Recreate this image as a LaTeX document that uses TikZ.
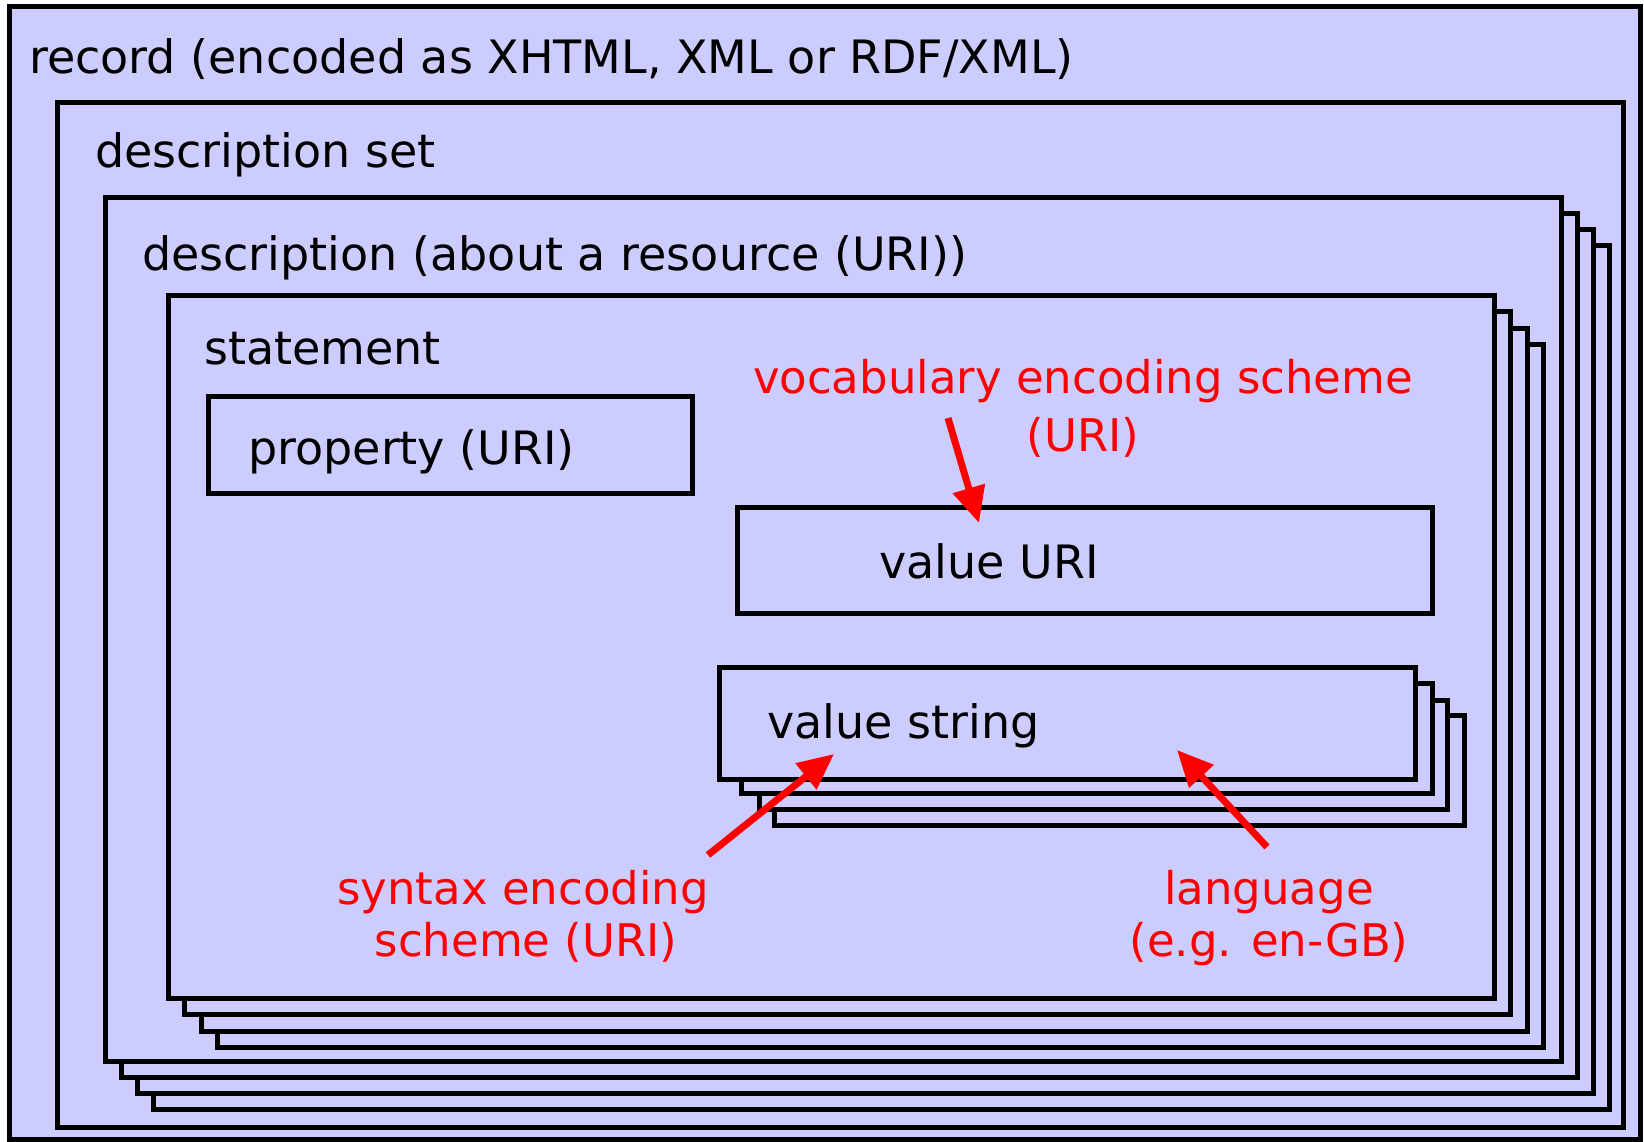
\documentclass[tikz,border=0pt]{standalone}
\usepackage{fontspec}
\setmainfont{DejaVu Sans}
\usetikzlibrary{arrows.meta}
\definecolor{lav}{HTML}{CCCCFF}
\definecolor{redlab}{HTML}{FF0000}
\tikzset{
  box/.style={draw=black, fill=lav, line width=5pt, inner sep=0pt, outer sep=0pt, anchor=north west},
  lbl/.style={inner sep=0pt, anchor=base west, font=\fontsize{46}{54}\selectfont},
  rlbl/.style={inner sep=0pt, anchor=base, text=redlab, font=\fontsize{45}{54}\selectfont},
  redarrow/.style={draw=redlab, line width=7pt, -{Triangle[length=36pt,width=32pt]}}
}
\begin{document}
\begin{tikzpicture}[x=1pt,y=-1pt]
\useasboundingbox (0,0) rectangle (1644,1142);
% record
\node[box, minimum width=1631pt, minimum height=1132pt] (record) at (9,7) {};
% description set
\node[box, minimum width=1566pt, minimum height=1024pt] (dset) at (57,103) {};
% description stack
\foreach \k in {3,2,1} {
  \node[box, minimum width=1456pt, minimum height=863pt] (desc\k) at (105+16*\k,198+16*\k) {};
}
\node[box, minimum width=1456pt, minimum height=863pt] (desc) at (105,198) {};
% statement stack
\foreach \k in {3,2,1} {
  \node[box, minimum width=1326pt, minimum height=703pt] (stmt\k) at (168+16.5*\k,295+16.5*\k) {};
}
\node[box, minimum width=1326pt, minimum height=703pt] (stmt) at (168,295) {};
% property
\node[box, minimum width=484pt, minimum height=97pt] (prop) at (208,396) {};
% value URI
\node[box, minimum width=695pt, minimum height=106pt] (vuri) at (737,507) {};
% value string stack
\node[box, minimum width=690pt, minimum height=110pt] (vstr3) at (774,715) {};
\node[box, minimum width=688pt, minimum height=109pt] (vstr2) at (759,700) {};
\node[box, minimum width=691pt, minimum height=110pt] (vstr1) at (741,683) {};
\node[box, minimum width=696pt, minimum height=112pt] (vstr) at (719,667) {};
% texts
\node[lbl] (trecord) at (29,74) {record (encoded as XHTML, XML or RDF/XML)};
\node[lbl] (tdset) at (95,168) {description set};
\node[lbl] (tdesc) at (142,270) {description (about a resource (URI))};
\node[lbl] (tstmt) at (204,364) {statement};
\node[lbl] (tprop) at (248,464) {property (URI)};
\node[lbl] (tvuri) at (879,578) {value URI};
\node[lbl] (tvstr) at (767,738) {value string};
\node[rlbl] (tvoc1) at (1083,393) {vocabulary encoding scheme};
\node[rlbl] (tvoc2) at (1083,451) {(URI)};
\node[rlbl] (tsyn1) at (523,904) {syntax encoding};
\node[rlbl] (tsyn2) at (526,956) {scheme (URI)};
\node[rlbl] (tlang1) at (1269,904) {language};
\node[rlbl] (tlang2) at (1269,956) {(e.g. en-GB)};
% arrows
\coordinate (vocS) at (948,418);
\coordinate (vocT) at (979,523);
\coordinate (synS) at (708,855);
\coordinate (synT) at (834,754);
\coordinate (lanS) at (1267,847);
\coordinate (lanT) at (1177,750);
\draw[redarrow] (vocS) -- (vocT);
\draw[redarrow] (synS) -- (synT);
\draw[redarrow] (lanS) -- (lanT);
\end{tikzpicture}
\end{document}
